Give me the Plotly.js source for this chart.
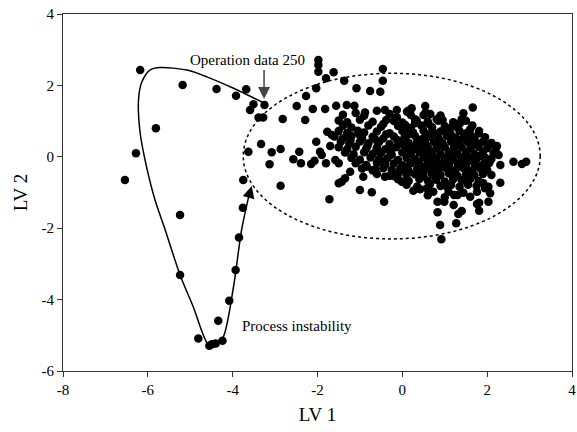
<!DOCTYPE html>
<html>
<head>
<meta charset="utf-8">
<script src="https://cdn.plot.ly/plotly-3.0.1.min.js"></script>
<style>html,body{margin:0;padding:0;background:#fff}#chart{width:577px;height:432px}</style>
</head>
<body>
<div id="chart"></div>
<script>
// Excursion points (process instability loop)
const excursionPts = [[-6.54,-0.65],[-6.28,0.10],[-6.18,2.43],[-5.81,0.80],[-5.18,2.01],[-5.24,-1.63],[-5.24,-3.31],[-4.81,-5.09],[-4.55,-5.29],[-4.49,-5.25],[-4.40,-5.23],[-4.24,-5.15],[-4.34,-4.59],[-4.08,-4.03],[-3.93,-3.17],[-3.85,-2.26],[-3.76,-1.43],[-3.75,-0.65],[-4.38,1.90],[-3.92,1.71],[-3.68,1.89],[-3.51,1.47],[-3.25,1.45],[-3.59,1.31],[-3.39,1.10],[-3.28,1.10]];

// Scattered operation points
const scatterPts = [[-2.82,1.06],[-2.49,1.42],[-2.27,1.70],[-2.29,1.03],[-3.63,0.14],[-3.33,0.36],[-3.08,0.13],[-2.87,0.22],[-3.13,-0.21],[-2.43,0.14],[-2.57,-0.07],[-2.39,-0.18],[-2.87,-0.81],
[-1.98,2.71],[-1.98,2.57],[-1.98,2.38],[-1.62,2.37],[-1.80,2.20],[-2.03,1.92],[-1.37,2.13],[-0.46,2.46],[-0.46,2.13],[-1.08,1.92],[-0.76,1.84],[-0.52,1.82],[-2.11,1.34],[-1.82,1.34],[-1.56,1.43],[-1.31,1.45],[-1.13,1.43],[-0.88,1.24],[-0.60,1.29],[-0.41,1.31],[-0.13,1.31],[0.14,1.29],[-0.38,1.03],[-0.13,1.11],[0.07,0.89],[0.11,0.75],
[-2.15,-0.20],[-2.07,-0.11],[-2.03,0.42],[-1.94,0.14],[-1.90,0.05],[-1.70,0.30],[-1.80,-0.18],[-1.77,0.70],[-1.66,0.61],[-1.58,-0.09],[-1.50,-0.18],[-1.23,-0.42],[-1.50,-0.74],[-1.43,-0.70],[-1.35,-0.60],[-1.72,-1.19],[-1.00,-0.93],[-0.72,-0.99],[-0.43,-1.26],[-0.92,-0.56],[-0.41,-0.56],[-0.21,-0.54],[-0.01,-0.70],[-0.84,-0.28],[-0.64,-0.35],
[0.54,1.42],[0.22,1.36],[0.11,1.26],[1.66,1.38],[1.44,1.22],[1.40,1.05],[1.36,0.94],[0.81,1.05],[0.85,1.01],[0.66,1.20],[0.50,1.17],[0.34,1.01],[0.30,0.94],[1.13,0.80],[1.81,0.72],[1.60,0.77],[1.52,0.66],[2.03,0.33],[2.23,0.30],[2.27,0.05],[2.31,-0.23],[2.62,-0.14],[2.82,-0.20],[2.92,-0.14],[2.31,-0.73],[2.03,-0.84],[2.07,-1.02],[2.03,-1.26],[1.81,-1.29],[1.76,-1.32],[1.81,-1.51],[1.40,-1.52],[1.32,-1.60],[1.27,-1.86],[0.89,-1.91],[0.92,-2.31],[0.83,-1.55],[0.83,-1.26],[0.99,-1.26],[1.21,-1.35],[1.22,-1.07],[1.44,-1.01],[1.76,-0.98],[0.26,-0.95],[0.42,-0.91],[0.58,-0.88],[0.73,-0.98],[1.05,-0.84],[1.09,-0.98],[1.48,-0.67],[1.91,-0.74],[1.95,-0.88]];

// Dense core of normal operation
const corePts = [[-1.4,1.18],[-1.1,1.23],[-0.9,1.15],[-0.3,1.2],[0.2,1.17],[0.55,1.24],[0.9,1.16],
[-1.5,1.02],[-1.3,0.97],[-1.0,1.04],[-0.7,0.98],[-0.2,1.0],[0.0,0.96],[0.3,1.05],[0.6,0.99],[0.95,1.03],[1.2,0.97],[1.5,1.01],
[-1.4,0.87],[-1.2,0.82],[-0.8,0.88],[-0.5,0.84],[-0.1,0.86],[0.2,0.81],[0.45,0.88],[0.7,0.83],[1.0,0.86],[1.3,0.82],[1.65,0.88],
[-1.5,0.72],[-1.3,0.67],[-1.05,0.73],[-0.9,0.68],[-0.6,0.71],[-0.3,0.66],[0.0,0.72],[0.25,0.69],[0.5,0.73],[0.75,0.67],[0.9,0.71],[1.1,0.68],[1.35,0.72],[1.55,0.69],[1.8,0.66],
[-1.6,0.57],[-1.4,0.52],[-1.2,0.58],[-0.95,0.53],[-0.7,0.56],[-0.45,0.51],[-0.2,0.57],[0.05,0.54],[0.3,0.58],[0.5,0.52],[0.65,0.56],[0.85,0.53],[1.05,0.58],[1.25,0.54],[1.45,0.57],[1.7,0.52],[1.95,0.55],
[-1.45,0.42],[-1.25,0.37],[-1.0,0.43],[-0.8,0.38],[-0.55,0.41],[-0.3,0.36],[-0.05,0.42],[0.15,0.39],[0.35,0.43],[0.55,0.37],[0.75,0.41],[0.95,0.38],[1.15,0.42],[1.35,0.37],[1.55,0.41],[1.75,0.38],[1.9,0.43],[2.1,0.39],
[-1.5,0.27],[-1.3,0.22],[-1.1,0.28],[-0.85,0.23],[-0.6,0.26],[-0.4,0.21],[-0.15,0.27],[0.1,0.24],[0.3,0.28],[0.45,0.22],[0.6,0.26],[0.8,0.23],[1.0,0.27],[1.2,0.22],[1.4,0.26],[1.6,0.23],[1.8,0.28],[2.0,0.24],[2.2,0.21],
[-1.35,0.12],[-1.15,0.07],[-0.9,0.13],[-0.7,0.08],[-0.5,0.11],[-0.25,0.06],[0.0,0.12],[0.2,0.09],[0.4,0.13],[0.55,0.07],[0.7,0.11],[0.9,0.08],[1.1,0.12],[1.3,0.07],[1.5,0.11],[1.7,0.08],[1.9,0.13],[2.15,0.09],
[-1.2,-0.03],[-1.0,-0.08],[-0.75,-0.02],[-0.55,-0.07],[-0.35,-0.04],[-0.1,-0.09],[0.1,-0.03],[0.3,-0.06],[0.5,-0.02],[0.65,-0.08],[0.8,-0.04],[1.0,-0.07],[1.2,-0.03],[1.4,-0.08],[1.6,-0.04],[1.75,-0.07],[1.95,-0.02],[2.1,-0.06],
[-1.1,-0.18],[-0.85,-0.23],[-0.6,-0.17],[-0.4,-0.22],[-0.2,-0.19],[0.0,-0.24],[0.2,-0.18],[0.4,-0.21],[0.6,-0.17],[0.75,-0.23],[0.9,-0.19],[1.1,-0.22],[1.3,-0.18],[1.5,-0.23],[1.7,-0.19],[1.9,-0.22],[2.05,-0.17],
[-0.95,-0.33],[-0.7,-0.38],[-0.45,-0.32],[-0.25,-0.37],[-0.05,-0.34],[0.15,-0.39],[0.35,-0.33],[0.55,-0.36],[0.7,-0.32],[0.85,-0.38],[1.05,-0.34],[1.25,-0.37],[1.45,-0.33],[1.65,-0.38],[1.85,-0.34],[2.0,-0.37],
[-0.6,-0.48],[-0.3,-0.53],[-0.1,-0.47],[0.1,-0.52],[0.3,-0.49],[0.5,-0.54],[0.7,-0.48],[0.9,-0.51],[1.1,-0.47],[1.3,-0.53],[1.5,-0.49],[1.7,-0.52],[1.9,-0.48],[2.1,-0.51],
[-0.1,-0.63],[0.15,-0.68],[0.4,-0.62],[0.6,-0.67],[0.8,-0.64],[1.0,-0.69],[1.2,-0.63],[1.4,-0.66],[1.6,-0.62],[1.8,-0.68],
[0.1,-0.78],[0.35,-0.83],[0.65,-0.77],[0.9,-0.82],[1.15,-0.79],[1.35,-0.84],[1.55,-0.78],[1.75,-0.81],
[0.6,-1.08],[1.0,-1.13],[1.3,-1.07],[1.6,-1.12],
[0.02,0.33],[0.22,0.17],[0.48,0.31],[0.68,0.02],[0.87,0.31],[1.08,0.03],[1.27,0.31],[1.47,0.02],[1.66,0.31],[1.85,0.03],
[0.12,-0.27],[0.33,-0.12],[0.52,-0.28],[0.71,-0.12],[0.93,-0.27],[1.13,-0.12],[1.34,-0.27],[1.55,-0.12],[1.76,-0.27],[1.96,-0.12],
[-0.62,0.47],[-0.38,0.63],[-0.12,0.47],[0.13,0.62],[0.4,0.47],[0.62,0.63],[0.88,0.46],[1.14,0.63],[1.37,0.47],[1.6,0.62],
[-1.22,0.47],[-1.02,0.63],[-0.82,0.32],[-0.62,0.16],[-0.45,-0.13],[-0.28,0.14],[0.08,-0.42],[0.45,-0.43],[0.78,-0.57],[1.18,-0.42],[1.58,-0.43],[1.2,-0.58],[0.62,0.92],[0.1,0.78],[-0.45,0.92],[1.05,0.76]];

// Hand-drawn trajectory curve
const loopX = [-3.25,-3.98,-4.61,-5.08,-5.71,-5.95,-6.14,-6.22,-6.18,-6.03,-5.83,-5.59,-5.24,-4.93,-4.57,-4.42,-4.22,-3.98,-3.79,-3.62];
const loopY = [1.50,1.92,2.24,2.43,2.50,2.43,2.10,1.59,0.66,-0.28,-1.21,-2.05,-3.31,-4.20,-5.27,-5.29,-5.04,-3.64,-2.05,-1.10];

// Normal operating region (ellipse bounds)
const ellipseBox = {x0:-3.75, x1:3.25, y0:-2.30, y1:2.34};

const xTicks = [-8,-6,-4,-2,0,2,4];
const yTicks = [-6,-4,-2,0,2,4];

const allPts = excursionPts.concat(scatterPts, corePts);
const FONT = 'Liberation Serif, Times New Roman, serif';

const traces = [
  {x: loopX, y: loopY, mode:'lines', line:{color:'#000', width:1.5, shape:'spline', smoothing:0.8}, hoverinfo:'skip', showlegend:false},
  {x: allPts.map(p=>p[0]), y: allPts.map(p=>p[1]), mode:'markers', marker:{color:'#000', size:8.5}, showlegend:false}
];

const layout = {
  width:577, height:432,
  margin:{l:63, r:5, t:14, b:61},
  paper_bgcolor:'#fff', plot_bgcolor:'#fff',
  font:{family:FONT, color:'#000', size:14},
  showlegend:false,
  xaxis:{range:[-8,4], tickvals:xTicks, ticktext:xTicks.map(String), ticks:'outside', ticklen:5, tickcolor:'#333',
    showgrid:false, zeroline:false, showline:true, linecolor:'#333', linewidth:1, mirror:true,
    tickfont:{family:FONT, size:15}, title:{text:'LV 1', font:{family:FONT, size:19}, standoff:10}},
  yaxis:{range:[-6,4], tickvals:yTicks, ticktext:yTicks.map(String), ticks:'outside', ticklen:5, tickcolor:'#333',
    showgrid:false, zeroline:false, showline:true, linecolor:'#333', linewidth:1, mirror:true,
    tickfont:{family:FONT, size:15}, title:{text:'LV 2', font:{family:FONT, size:19}, standoff:8}},
  shapes:[{type:'circle', xref:'x', yref:'y', x0:ellipseBox.x0, x1:ellipseBox.x1, y0:ellipseBox.y0, y1:ellipseBox.y1,
    line:{color:'#000', width:1.5, dash:'dot'}}],
  annotations:[
    {x:-3.66, y:2.71, xref:'x', yref:'y', text:'Operation data 250', showarrow:false, font:{family:FONT, size:15}},
    {x:-3.26, y:1.62, xref:'x', yref:'y', ax:-3.26, ay:2.47, axref:'x', ayref:'y', text:'', showarrow:true,
      arrowhead:2, arrowsize:1.6, arrowwidth:1.5, arrowcolor:'#444'},
    {x:-3.55, y:-0.82, xref:'x', yref:'y', ax:-3.62, ay:-1.12, axref:'x', ayref:'y', text:'', showarrow:true,
      arrowhead:2, arrowsize:1.6, arrowwidth:1.5, arrowcolor:'#000'},
    {x:-2.48, y:-4.74, xref:'x', yref:'y', text:'Process instability', showarrow:false, font:{family:FONT, size:15}}
  ]
};

Plotly.newPlot('chart', traces, layout, {staticPlot:true, displayModeBar:false});
</script>
</body>
</html>
